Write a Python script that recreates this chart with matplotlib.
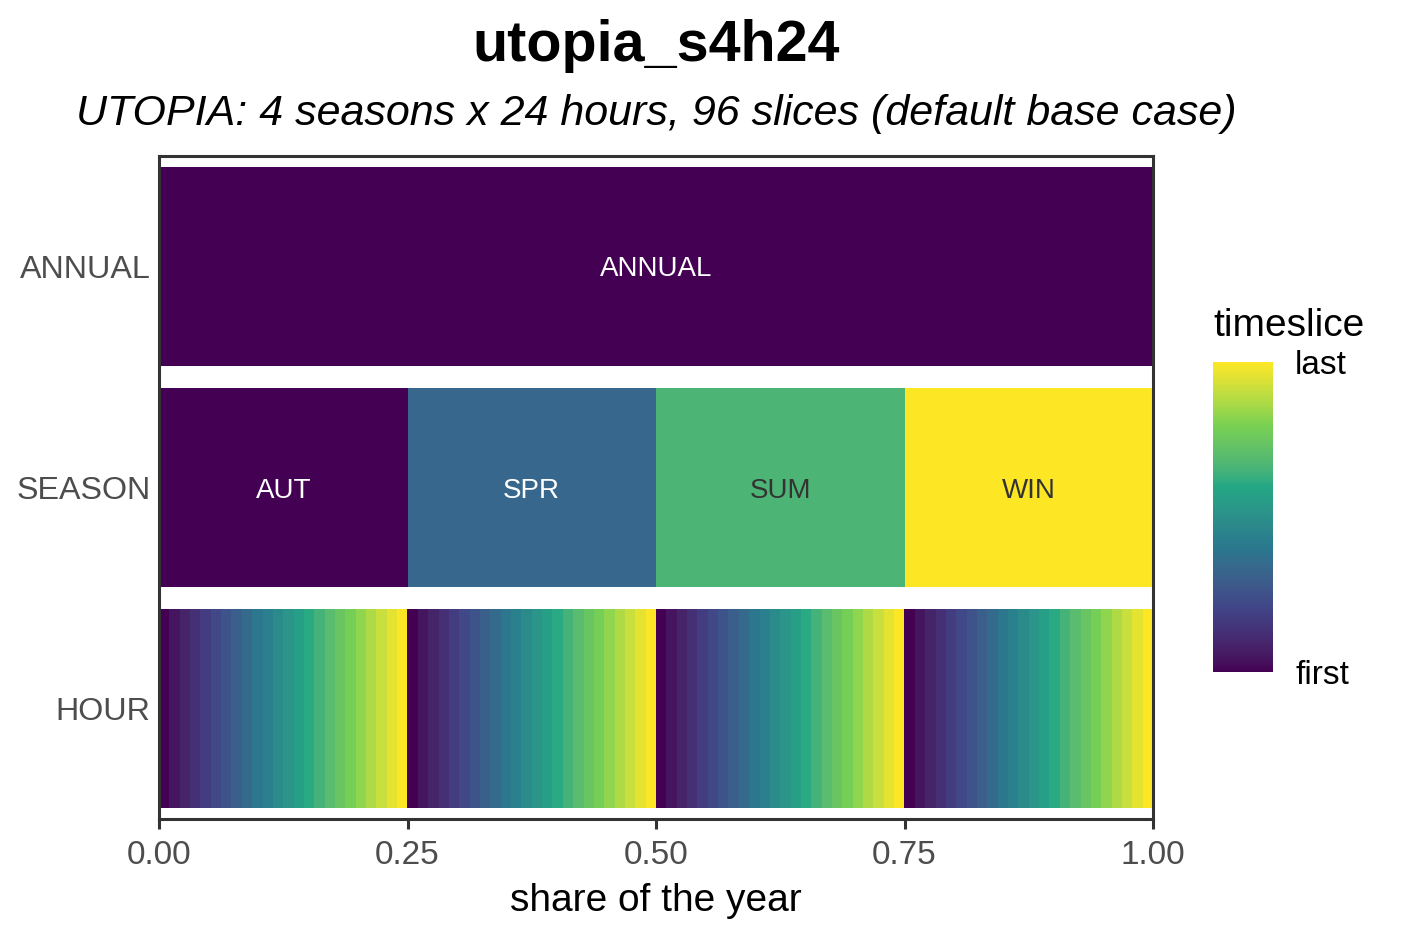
import numpy as np
import matplotlib.pyplot as plt
from matplotlib import cm, colors

plt.rcParams['font.family'] = ['Liberation Sans', 'DejaVu Sans']

# ---- data ----
levels = ["HOUR", "SEASON", "ANNUAL"]
seasons = ["AUT", "SPR", "SUM", "WIN"]
season_share = [0.25, 0.25, 0.25, 0.25]
n_hours = 24
hour_share = 1.0 / 96
title = "utopia_s4h24"
subtitle = "UTOPIA: 4 seasons x 24 hours, 96 slices (default base case)"
xticks = [0.0, 0.25, 0.50, 0.75, 1.00]
xtick_labels = ["0.00", "0.25", "0.50", "0.75", "1.00"]

dark = "#333333"


# gradient through 6 viridis stops, interpolated in Lab (like ggplot's viridis_c)
def srgb_to_lab(rgb):
    rgb = np.asarray(rgb, float)
    lin = np.where(rgb <= 0.04045, rgb / 12.92, ((rgb + 0.055) / 1.055) ** 2.4)
    M = np.array([[0.4124, 0.3576, 0.1805], [0.2126, 0.7152, 0.0722], [0.0193, 0.1192, 0.9505]])
    xyz = lin @ M.T / np.array([0.95047, 1.0, 1.08883])
    f = np.where(xyz > 0.008856, np.cbrt(xyz), 7.787 * xyz + 16 / 116)
    return np.stack([116 * f[:, 1] - 16, 500 * (f[:, 0] - f[:, 1]), 200 * (f[:, 1] - f[:, 2])], axis=1)


def lab_to_srgb(lab):
    fy = (lab[:, 0] + 16) / 116
    fx = fy + lab[:, 1] / 500
    fz = fy - lab[:, 2] / 200
    f = np.stack([fx, fy, fz], axis=1)
    xyz = np.where(f > 0.2069, f ** 3, (f - 16 / 116) / 7.787) * np.array([0.95047, 1.0, 1.08883])
    Minv = np.linalg.inv(np.array([[0.4124, 0.3576, 0.1805], [0.2126, 0.7152, 0.0722], [0.0193, 0.1192, 0.9505]]))
    lin = xyz @ Minv.T
    rgb = np.where(lin <= 0.0031308, 12.92 * lin, 1.055 * np.clip(lin, 0, None) ** (1 / 2.4) - 0.055)
    return np.clip(rgb, 0, 1)


stops = [plt.colormaps["viridis"](v)[:3] for v in np.linspace(0, 1, 6)]
lab = srgb_to_lab(stops)
t = np.linspace(0, 1, 256)
sp = np.linspace(0, 1, 6)
lab_i = np.stack([np.interp(t, sp, lab[:, k]) for k in range(3)], axis=1)
cmap = colors.ListedColormap(lab_to_srgb(lab_i))


def text_col(c):
    r, g, b, _ = colors.to_rgba(c)
    return "white" if (0.299 * r + 0.587 * g + 0.114 * b) < 0.5 else dark


fig = plt.figure(figsize=(7.02, 4.68), dpi=200)
ax = fig.add_axes([159 / 1404, 1 - 819 / 936, (1153 - 159) / 1404, (819 - 156) / 936])

ypos = {lv: i for i, lv in enumerate(levels)}
h = 0.9

# ANNUAL
c = cmap(0.0)
ax.barh(ypos["ANNUAL"], 1.0, left=0, height=h, color=c, linewidth=0)
ax.text(0.5, ypos["ANNUAL"], "ANNUAL", ha="center", va="center_baseline", color=text_col(c), fontsize=10)

# SEASON
left = 0.0
svals = np.linspace(0, 1, len(seasons))
for s, w, v in zip(seasons, season_share, svals):
    c = cmap(v)
    ax.barh(ypos["SEASON"], w, left=left, height=h, color=c, linewidth=0)
    ax.text(left + w / 2, ypos["SEASON"], s, ha="center", va="center_baseline", color=text_col(c), fontsize=10)
    left += w

# HOUR
left = 0.0
hvals = np.linspace(0, 1, n_hours)
for s in seasons:
    for v in hvals:
        ax.barh(ypos["HOUR"], hour_share, left=left, height=h, color=cmap(v), linewidth=0)
        left += hour_share

ax.set_xlim(0, 1)
ax.set_ylim(-0.5, 2.5)
ax.set_yticks(range(len(levels)))
ax.set_yticklabels(levels, fontsize=11.6, color="#4D4D4D")
ax.set_xticks(xticks)
ax.set_xticklabels(xtick_labels, fontsize=12, color="#4D4D4D")
ax.tick_params(axis="y", length=0, pad=3)
ax.tick_params(axis="x", length=3.5, width=1.1, color=dark, pad=4)
for sp_ in ax.spines.values():
    sp_.set_color(dark)
    sp_.set_linewidth(1.1)
ax.set_xlabel("share of the year", fontsize=14, labelpad=4.5)

cx = (159 + 1153) / 2 / 1404
fig.text(cx, 1 - 46 / 936, title, ha="center", va="center", fontsize=20.7, fontweight="bold")
fig.text(cx, 1 - 114 / 936, subtitle, ha="center", va="center", fontsize=15.5, style="italic")

# colour bar legend
cax = fig.add_axes([1213 / 1404, 1 - 672 / 936, 60 / 1404, 310 / 936])
sm = cm.ScalarMappable(cmap=cmap, norm=colors.Normalize(0, 1))
cb = fig.colorbar(sm, cax=cax)
cb.outline.set_visible(False)
cb.set_ticks([0, 1])
cb.set_ticklabels(["first", "last"])
cax.tick_params(length=0, labelsize=12, pad=8)
fig.text(1213 / 1404, 1 - 326 / 936, "timeslice", ha="left", va="center", fontsize=14)

fig.savefig("out.png", dpi=200)
